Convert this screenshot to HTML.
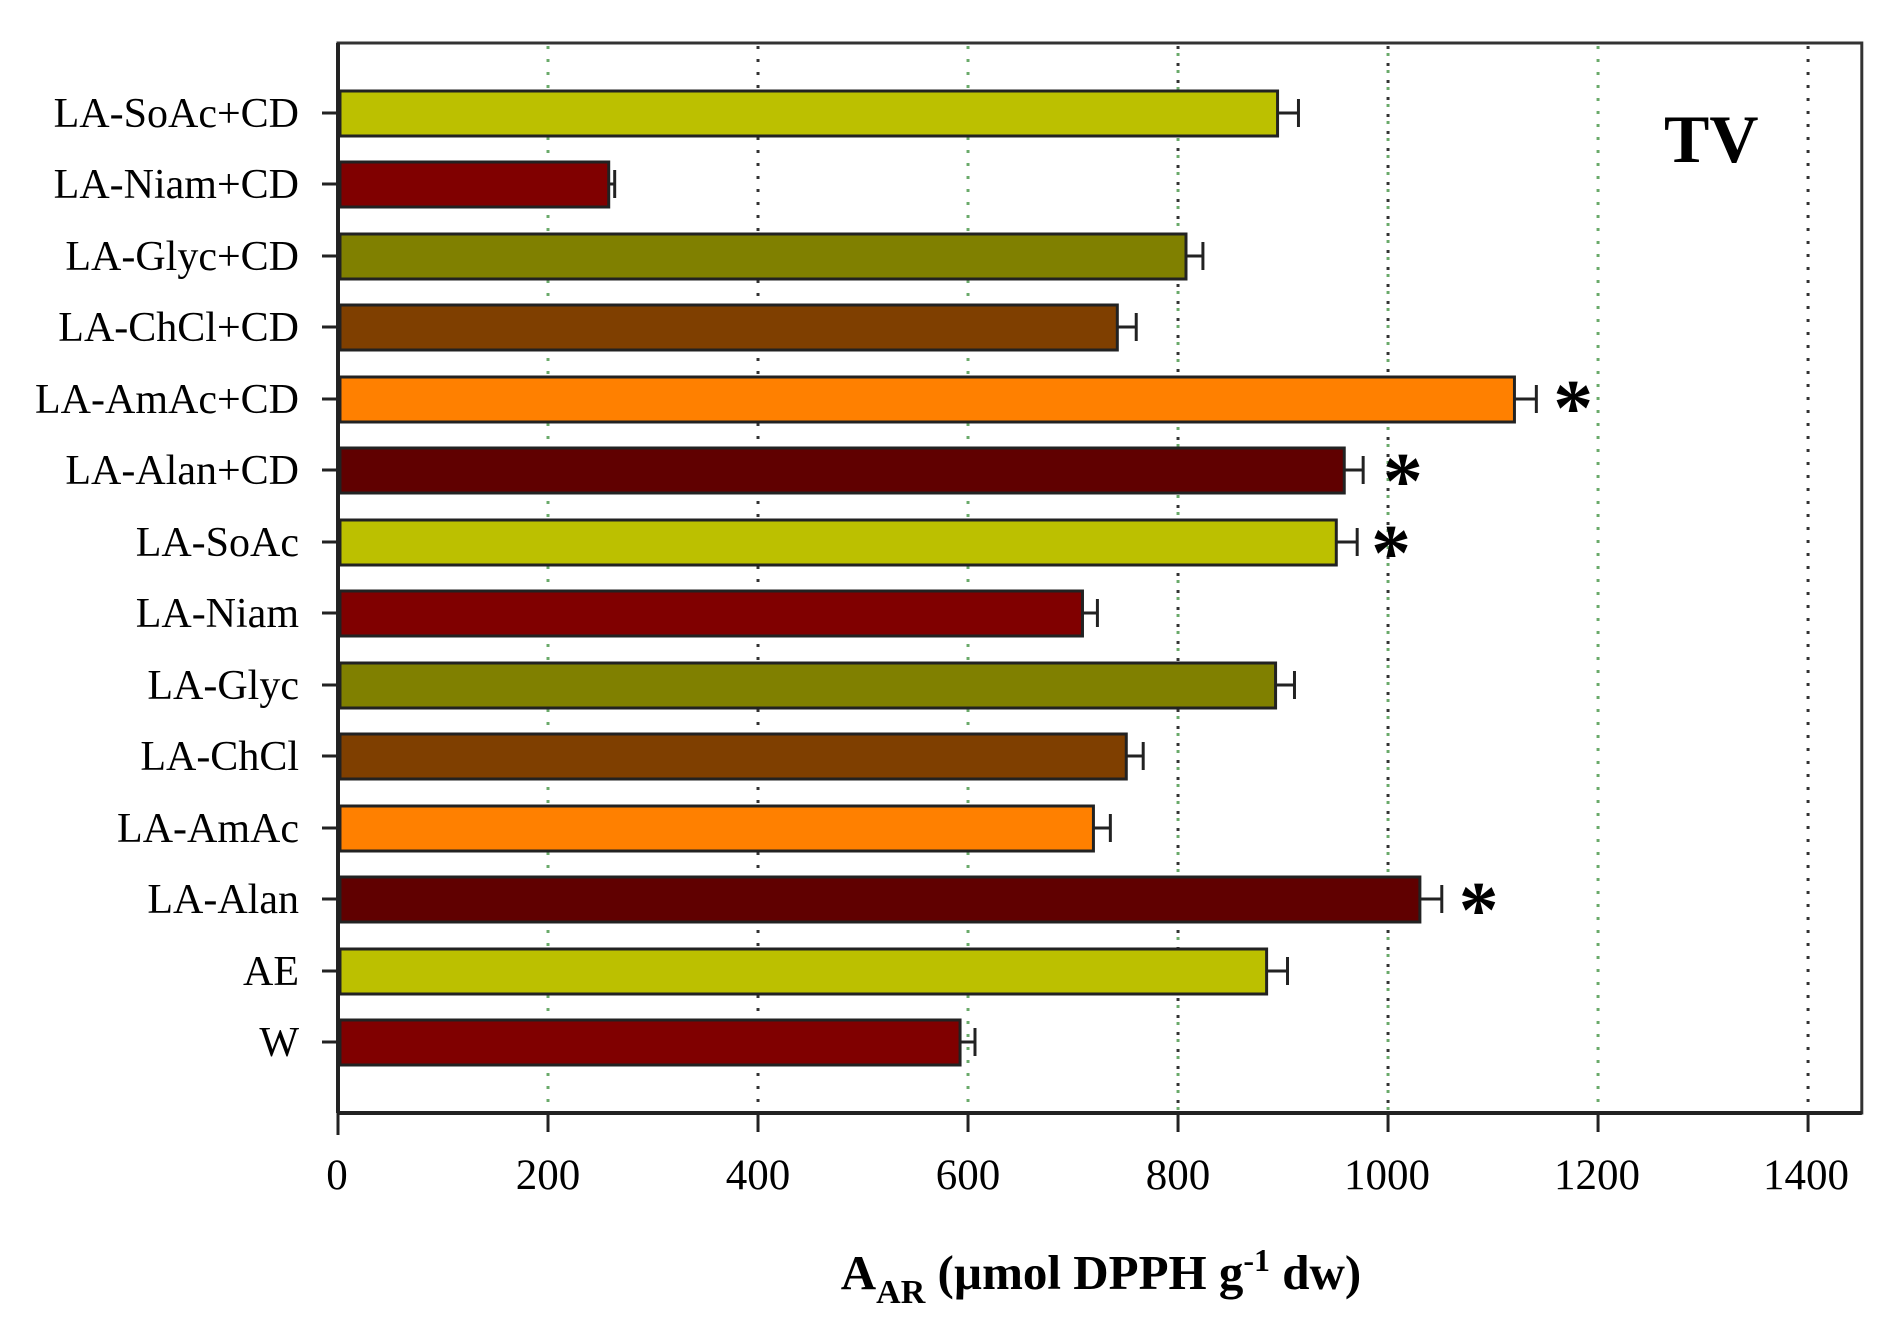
<!DOCTYPE html>
<html><head><meta charset="utf-8"><style>
html,body{margin:0;padding:0;background:#fff;}
svg{display:block;}
text{font-family:"Liberation Serif",serif;fill:#000;}
</style></head><body>
<svg width="1902" height="1336" viewBox="0 0 1902 1336" xmlns="http://www.w3.org/2000/svg">
<rect width="1902" height="1336" fill="#fff"/>
<g transform="translate(338,0) scale(0.9953,1) translate(-338,0)">
<!-- grid -->
<g stroke-width="3" fill="none">
<line x1="549" y1="46" x2="549" y2="1112" stroke="#6aaa6a" stroke-dasharray="3,10"/>
<line x1="760" y1="46" x2="760" y2="1112" stroke="#333" stroke-dasharray="3,10"/>
<line x1="971" y1="46" x2="971" y2="1112" stroke="#6aaa6a" stroke-dasharray="3,10"/>
<line x1="1182" y1="46" x2="1182" y2="1112" stroke="#333" stroke-dasharray="3,14"/>
<line x1="1182" y1="53" x2="1182" y2="1112" stroke="#6aaa6a" stroke-dasharray="3,14"/>
<line x1="1393" y1="46" x2="1393" y2="1112" stroke="#333" stroke-dasharray="3,14"/>
<line x1="1393" y1="53" x2="1393" y2="1112" stroke="#6aaa6a" stroke-dasharray="3,14"/>
<line x1="1604" y1="46" x2="1604" y2="1112" stroke="#6aaa6a" stroke-dasharray="3,10"/>
<line x1="1815" y1="46" x2="1815" y2="1112" stroke="#333" stroke-dasharray="3,10"/>
</g>
<!-- frame -->
<rect x="338" y="43" width="1531" height="1070" fill="none" stroke="#333" stroke-width="3"/>
<line x1="338" y1="43" x2="338" y2="1113" stroke="#222" stroke-width="4"/>
<line x1="338" y1="1113" x2="1869" y2="1113" stroke="#222" stroke-width="4"/>
<!-- x ticks -->
<g stroke="#222" stroke-width="3">
<line x1="338" y1="1113" x2="338" y2="1135"/><line x1="549" y1="1113" x2="549" y2="1132"/>
<line x1="760" y1="1113" x2="760" y2="1132"/><line x1="971" y1="1113" x2="971" y2="1132"/>
<line x1="1182" y1="1113" x2="1182" y2="1132"/><line x1="1393" y1="1113" x2="1393" y2="1132"/>
<line x1="1604" y1="1113" x2="1604" y2="1132"/><line x1="1815" y1="1113" x2="1815" y2="1132"/>
</g>
<!-- bars -->
<g stroke="#222" stroke-width="3">
<rect x="340" y="91" width="942" height="45" fill="#bcc000"/>
<rect x="340" y="162" width="270" height="45" fill="#800000"/>
<rect x="340" y="234" width="850" height="45" fill="#808000"/>
<rect x="340" y="305" width="781" height="45" fill="#7f3f00"/>
<rect x="340" y="377" width="1180" height="45" fill="#ff8000"/>
<rect x="340" y="448" width="1009" height="45" fill="#600000"/>
<rect x="340" y="520" width="1001" height="45" fill="#bcc000"/>
<rect x="340" y="591" width="746" height="45" fill="#800000"/>
<rect x="340" y="663" width="940" height="45" fill="#808000"/>
<rect x="340" y="734" width="790" height="45" fill="#7f3f00"/>
<rect x="340" y="806" width="757" height="45" fill="#ff8000"/>
<rect x="340" y="877" width="1085" height="45" fill="#600000"/>
<rect x="340" y="949" width="931" height="45" fill="#bcc000"/>
<rect x="340" y="1020" width="623" height="45" fill="#800000"/>
</g>
<!-- error bars -->
<g stroke="#222" stroke-width="3" fill="none">
<path d="M1282 113H1303M1303 99V127"/>
<path d="M610 184H616M616 170V198"/>
<path d="M1190 256H1207M1207 242V270"/>
<path d="M1121 327H1140M1140 313V341"/>
<path d="M1520 399H1542M1542 385V413"/>
<path d="M1349 470H1368M1368 456V484"/>
<path d="M1341 542H1362M1362 528V556"/>
<path d="M1086 613H1101M1101 599V627"/>
<path d="M1280 685H1299M1299 671V699"/>
<path d="M1130 756H1147M1147 742V770"/>
<path d="M1097 828H1114M1114 814V842"/>
<path d="M1425 899H1447M1447 885V913"/>
<path d="M1271 971H1292M1292 957V985"/>
<path d="M963 1042H978M978 1028V1056"/>
</g>
<!-- stars -->
<g font-size="80" font-weight="bold" text-anchor="middle">
<text x="1579" y="435">*</text>
<text x="1408" y="508">*</text>
<text x="1396" y="580">*</text>
<text x="1484" y="937">*</text>
</g>
</g>
<g font-size="43" text-anchor="middle">
<text x="337" y="1189">0</text><text x="548" y="1189">200</text><text x="758" y="1189">400</text>
<text x="968" y="1189">600</text><text x="1178" y="1189">800</text><text x="1387" y="1189">1000</text>
<text x="1597" y="1189">1200</text><text x="1806" y="1189">1400</text>
</g>
<!-- y ticks -->
<g stroke="#222" stroke-width="3">
<line x1="322" y1="113" x2="338" y2="113"/><line x1="322" y1="184" x2="338" y2="184"/>
<line x1="322" y1="256" x2="338" y2="256"/><line x1="322" y1="327" x2="338" y2="327"/>
<line x1="322" y1="399" x2="338" y2="399"/><line x1="322" y1="470" x2="338" y2="470"/>
<line x1="322" y1="542" x2="338" y2="542"/><line x1="322" y1="613" x2="338" y2="613"/>
<line x1="322" y1="685" x2="338" y2="685"/><line x1="322" y1="756" x2="338" y2="756"/>
<line x1="322" y1="828" x2="338" y2="828"/><line x1="322" y1="899" x2="338" y2="899"/>
<line x1="322" y1="971" x2="338" y2="971"/><line x1="322" y1="1042" x2="338" y2="1042"/>
</g>
<g font-size="42" text-anchor="end">
<text x="299" y="127">LA-SoAc+CD</text>
<text x="299" y="198">LA-Niam+CD</text>
<text x="299" y="270">LA-Glyc+CD</text>
<text x="299" y="341">LA-ChCl+CD</text>
<text x="299" y="413">LA-AmAc+CD</text>
<text x="299" y="484">LA-Alan+CD</text>
<text x="299" y="556">LA-SoAc</text>
<text x="299" y="627">LA-Niam</text>
<text x="299" y="699">LA-Glyc</text>
<text x="299" y="770">LA-ChCl</text>
<text x="299" y="842">LA-AmAc</text>
<text x="299" y="913">LA-Alan</text>
<text x="299" y="985">AE</text>
<text x="299" y="1056">W</text>
</g>
<text x="1664" y="162" font-size="68" font-weight="bold">TV</text>
<text x="1101" y="1289" font-size="49" font-weight="bold" text-anchor="middle">A<tspan font-size="34" dy="14">AR</tspan><tspan dy="-14"> (µmol DPPH g</tspan><tspan font-size="32" dy="-18">-1</tspan><tspan dy="18"> dw)</tspan></text>
</svg>
</body></html>
